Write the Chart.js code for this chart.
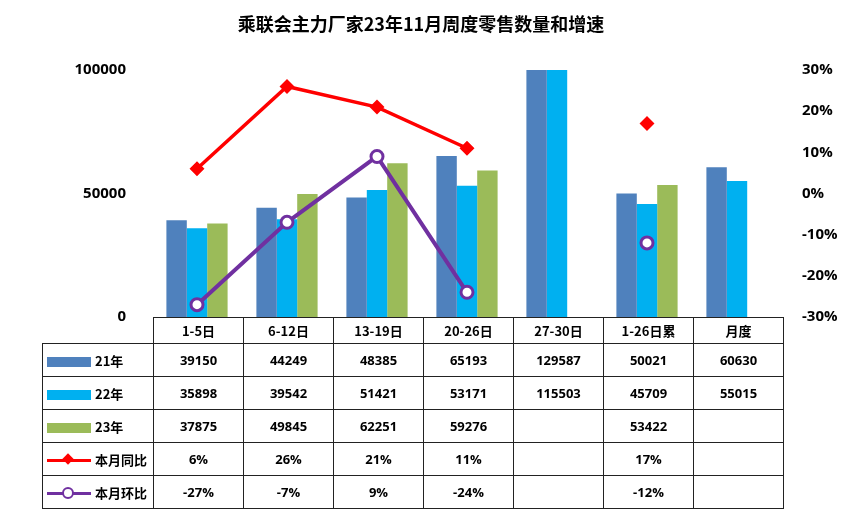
<!DOCTYPE html>
<html><head><meta charset="utf-8">
<script src="https://cdn.jsdelivr.net/npm/chart.js@4.4.0/dist/chart.umd.min.js"></script>
<style>
body{margin:0;width:842px;height:531px;background:#fff;font-family:"Noto Sans CJK SC","Open Sans",sans-serif;position:relative;overflow:hidden}
#title{position:absolute;top:10px;left:0;width:842px;text-align:center;font-weight:bold;font-size:18px;color:#000}
#wrap{position:absolute;left:0;top:0;width:842px;height:531px}
table{position:absolute;left:42px;top:317px;border-collapse:collapse;table-layout:fixed;width:741px;font-family:"Open Sans","Noto Sans CJK SC",sans-serif;font-weight:bold;font-size:13px}
td{border:1px solid #222;height:33px;text-align:center;padding:0;box-sizing:border-box}
td.lab{text-align:left;padding-left:4px;white-space:nowrap;font-family:"Noto Sans CJK SC",sans-serif}
td.blank{border:none;border-right:1px solid #222;border-bottom:1px solid #222}
tr.h td{height:26px;font-family:"Noto Sans CJK SC",sans-serif}
.sw{display:inline-block;width:44px;height:10px;vertical-align:middle;margin-right:4px}
.ln{display:inline-block;width:44px;height:3px;vertical-align:middle;margin-right:4px;position:relative}
</style></head><body>
<div id="wrap"><canvas id="c" width="842" height="531"></canvas></div>
<div id="title">乘联会主力厂家23年11月周度零售数量和增速</div>
<table id="t"><colgroup><col style="width:111px"><col style="width:90px"><col style="width:90px"><col style="width:90px"><col style="width:90px"><col style="width:90px"><col style="width:90px"><col style="width:90px"></colgroup></table>
<script>
const categories=["1-5日","6-12日","13-19日","20-26日","27-30日","1-26日累","月度"];
const y21=[39150,44249,48385,65193,129587,50021,60630];
const y22=[35898,39542,51421,53171,115503,45709,55015];
const y23=[37875,49845,62251,59276,null,53422,null];
const yoy=[6,26,21,11,null,17,null];
const mom=[-27,-7,9,-24,null,-12,null];
const leftTicks=[0,50000,100000];

new Chart(document.getElementById('c'),{
 data:{labels:categories,datasets:[
  {type:'line',label:'本月同比',data:yoy,yAxisID:'y1',borderColor:'#FF0000',backgroundColor:'#FF0000',borderWidth:3.5,pointStyle:'rectRot',pointRadius:5,spanGaps:false,order:0},
  {type:'line',label:'本月环比',data:mom,yAxisID:'y1',borderColor:'#7030A0',backgroundColor:'#fff',borderWidth:4,pointStyle:'circle',pointRadius:6,pointBorderWidth:3,spanGaps:false,order:0},
  {type:'bar',label:'21年',data:y21,backgroundColor:'#4F81BD',order:1},
  {type:'bar',label:'22年',data:y22,backgroundColor:'#00B0F0',order:1},
  {type:'bar',label:'23年',data:y23,backgroundColor:'#9BBB59',order:1}
 ]},
 options:{responsive:false,animation:false,
  layout:{padding:{top:70,bottom:214,left:0,right:0}},
  datasets:{bar:{categoryPercentage:0.68,barPercentage:1}},
  plugins:{legend:{display:false},tooltip:{enabled:false}},
  scales:{
   x:{display:false,offset:true},
   y:{position:'left',min:0,max:100000,grid:{display:false},border:{display:false},
      afterBuildTicks:a=>{a.ticks=leftTicks.map(v=>({value:v}))},
      afterFit:a=>{a.width=152},
      ticks:{color:'#000',font:{size:15,weight:'bold',family:'Open Sans'},padding:18,callback:v=>String(v)}},
   y1:{position:'right',min:-30,max:30,grid:{display:false},border:{display:false},
      afterFit:a=>{a.width=60},
      ticks:{stepSize:10,color:'#000',font:{size:15,weight:'bold',family:'Open Sans'},padding:12,callback:v=>v+'%'}}
  }}
});

const t=document.getElementById('t');
let h='<tr class="h"><td class="blank"></td>'+categories.map(c=>`<td>${c}</td>`).join('')+'</tr>';
const f=v=>v==null?'':v;
const p=v=>v==null?'':v+'%';
h+=`<tr><td class="lab"><span class="sw" style="background:#4F81BD"></span>21年</td>${y21.map(v=>`<td>${f(v)}</td>`).join('')}</tr>`;
h+=`<tr><td class="lab"><span class="sw" style="background:#00B0F0"></span>22年</td>${y22.map(v=>`<td>${f(v)}</td>`).join('')}</tr>`;
h+=`<tr><td class="lab"><span class="sw" style="background:#9BBB59"></span>23年</td>${y23.map(v=>`<td>${f(v)}</td>`).join('')}</tr>`;
h+=`<tr><td class="lab"><span class="ln" style="background:#FF0000"><span style="position:absolute;left:17px;top:-4px;width:8px;height:8px;background:#f00;transform:rotate(45deg)"></span></span>本月同比</td>${yoy.map(v=>`<td>${p(v)}</td>`).join('')}</tr>`;
h+=`<tr><td class="lab"><span class="ln" style="background:#7030A0"><span style="position:absolute;left:15px;top:-5px;width:8px;height:8px;background:#fff;border:2px solid #7030A0;border-radius:50%"></span></span>本月环比</td>${mom.map(v=>`<td>${p(v)}</td>`).join('')}</tr>`;
t.insertAdjacentHTML('beforeend',h);
</script>
</body></html>
